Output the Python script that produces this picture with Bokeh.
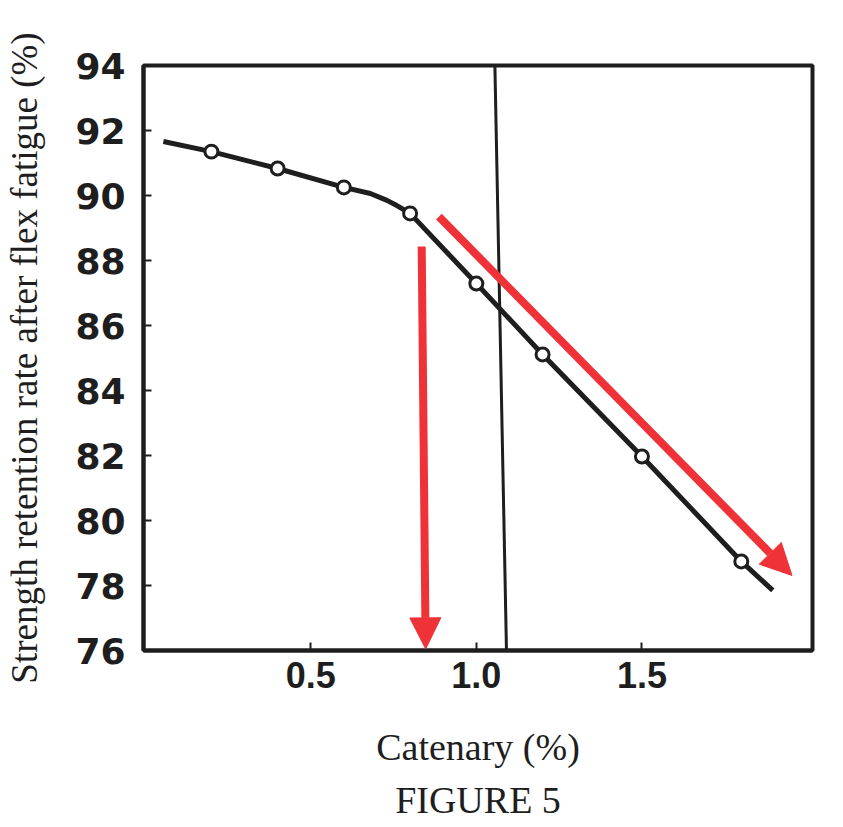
from bokeh.plotting import figure
from bokeh.models import Arrow, NormalHead, Range1d, Title, FixedTicker
from bokeh.embed import file_html
from bokeh.resources import INLINE

# measured data points (open circles)
pt_x = [0.2, 0.4, 0.6, 0.8, 1.0, 1.2, 1.5, 1.8]
pt_y = [91.35, 90.83, 90.25, 89.45, 87.29, 85.11, 81.97, 78.74]

# drawn curve (includes start/end and the rounded knee)
curve_x = [0.055, 0.2, 0.4, 0.6, 0.68, 0.73, 0.76, 0.8, 1.0, 1.2, 1.5, 1.8, 1.895]
curve_y = [91.66, 91.35, 90.83, 90.25, 90.06, 89.85, 89.69, 89.45, 87.29, 85.11, 81.97, 78.74, 77.85]

# red annotation arrows: start/end in data coordinates
arrow_x0 = [0.835, 0.887]
arrow_y0 = [88.43, 89.35]
arrow_x1 = [0.847, 1.953]
arrow_y1 = [76.05, 78.31]

# scan fold line
fold_x = [1.056, 1.091]
fold_y = [94.0, 76.0]

x_ticks = [0.5, 1.0, 1.5]
x_tick_labels = ["0.5", "1.0", "1.5"]
y_ticks = [76, 78, 80, 82, 84, 86, 88, 90, 92, 94]

BLACK = "#1e1e1e"
RED = "#ef3237"

p = figure(width=835, height=827, output_backend="svg", toolbar_location=None,
           x_range=Range1d(-0.005, 2.015), y_range=Range1d(76, 94),
           min_border_left=143, min_border_right=23, min_border_top=65,
           min_border_bottom=177)

p.background_fill_color = "white"
p.border_fill_color = "white"
p.grid.visible = False
p.outline_line_color = BLACK
p.outline_line_width = 4

for ax in (p.xaxis[0], p.yaxis[0]):
    ax.axis_line_color = BLACK
    ax.axis_line_width = 4
    ax.major_tick_line_color = BLACK
    ax.major_tick_line_width = 2
    ax.major_tick_in = 8
    ax.major_tick_out = 0
    ax.minor_tick_line_color = None
    ax.major_label_text_color = BLACK
    ax.axis_label_text_color = BLACK
    ax.axis_label_text_font = "Liberation Serif"
    ax.axis_label_text_font_style = "normal"

p.xaxis.ticker = FixedTicker(ticks=x_ticks)
p.xaxis.major_label_overrides = {t: l for t, l in zip(x_ticks, x_tick_labels)}
p.xaxis.major_label_text_font = "Liberation Sans"
p.xaxis.major_label_text_font_style = "bold"
p.xaxis.major_label_text_font_size = "36px"
p.xaxis.major_label_standoff = 11
p.xaxis.axis_label = "Catenary (%)"
p.xaxis.axis_label_text_font_size = "38px"
p.xaxis.axis_label_standoff = 35

p.yaxis.ticker = FixedTicker(ticks=y_ticks)
p.yaxis.major_label_text_font = "DejaVu Sans"
p.yaxis.major_label_text_font_style = "bold"
p.yaxis.major_label_text_font_size = "36px"
p.yaxis.major_label_standoff = 18
p.yaxis.axis_label = "Strength retention rate after flex fatigue (%)"
p.yaxis.axis_label_text_font_size = "37px"
p.yaxis.axis_label_standoff = 27

# fold line artifact
p.line(fold_x, fold_y, line_color=BLACK, line_width=3)

# curve and points
p.line(curve_x, curve_y, line_color=BLACK, line_width=5, line_join="round")
p.scatter(pt_x, pt_y, marker="circle", size=13, fill_color="white",
          line_color=BLACK, line_width=3)

for xs, ys, xe, ye in zip(arrow_x0, arrow_y0, arrow_x1, arrow_y1):
    p.add_layout(Arrow(end=NormalHead(size=31, fill_color=RED, line_color=RED, line_width=1),
                       x_start=xs, y_start=ys, x_end=xe, y_end=ye,
                       line_color=RED, line_width=8))

title = Title(text="FIGURE 5", align="center", text_font="Liberation Serif",
              text_font_size="38px", text_font_style="normal", text_color=BLACK,
              standoff=13)
p.add_layout(title, "below")

open("out.html", "w").write(file_html(p, INLINE))
